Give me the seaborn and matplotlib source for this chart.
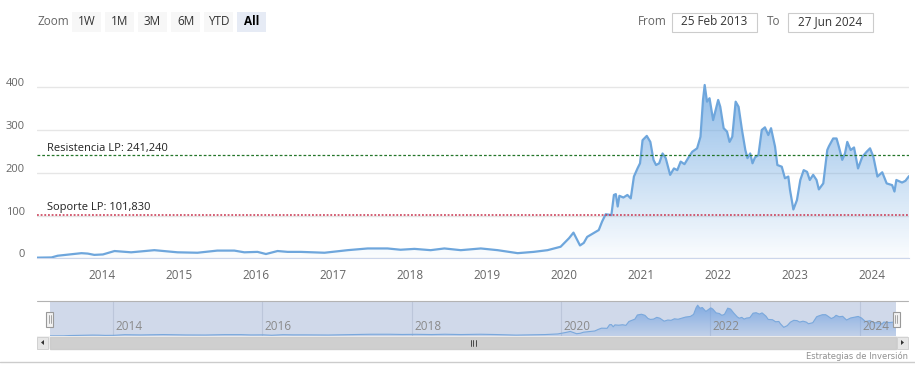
import numpy as np
import pandas as pd
import matplotlib
matplotlib.use("Agg")
import matplotlib.pyplot as plt
import matplotlib.dates as mdates
import matplotlib.transforms as mtransforms
from matplotlib.patches import Rectangle, Polygon
import seaborn as sns

# price series
dates = [
    "2013-02-25", "2013-05-05", "2013-06-03", "2013-09-24", "2013-10-24", "2013-11-24",
    "2014-01-04", "2014-02-28", "2014-05-18", "2014-09-05", "2014-12-24", "2015-03-29",
    "2015-07-01", "2015-09-20", "2015-11-06", "2016-01-08", "2016-02-17", "2016-04-12",
    "2016-05-30", "2016-07-31", "2016-11-21", "2017-03-11", "2017-06-14", "2017-09-16",
    "2017-11-17", "2018-01-22", "2018-04-09", "2018-06-13", "2018-08-30", "2018-12-03",
    "2019-02-21", "2019-05-27", "2019-08-11", "2019-10-16", "2019-12-17", "2020-01-26",
    "2020-02-16", "2020-03-18", "2020-04-05", "2020-04-21", "2020-06-15", "2020-07-01",
    "2020-07-18", "2020-08-14", "2020-08-26", "2020-09-04", "2020-09-13", "2020-09-21",
    "2020-10-10", "2020-10-29", "2020-11-14", "2020-11-29", "2020-12-16", "2020-12-28",
    "2021-01-09", "2021-01-29", "2021-02-15", "2021-03-02", "2021-03-14", "2021-03-29",
    "2021-04-14", "2021-04-29", "2021-05-20", "2021-06-07", "2021-06-23", "2021-07-09",
    "2021-07-27", "2021-08-17", "2021-09-02", "2021-09-25", "2021-10-11", "2021-10-23",
    "2021-10-31", "2021-11-11", "2021-11-23", "2021-12-10", "2022-01-03", "2022-01-13",
    "2022-01-29", "2022-02-14", "2022-02-26", "2022-03-11", "2022-03-27", "2022-04-10",
    "2022-04-26", "2022-05-12", "2022-05-22", "2022-06-04", "2022-06-15", "2022-06-27",
    "2022-07-13", "2022-07-29", "2022-08-13", "2022-08-29", "2022-09-11", "2022-09-30",
    "2022-10-11", "2022-11-01", "2022-11-16", "2022-12-02", "2022-12-10", "2022-12-26",
    "2023-01-12", "2023-01-28", "2023-02-13", "2023-03-01", "2023-03-14", "2023-03-30",
    "2023-04-15", "2023-04-26", "2023-05-17", "2023-06-05", "2023-06-13", "2023-07-03",
    "2023-07-19", "2023-07-30", "2023-08-15", "2023-08-28", "2023-09-08", "2023-09-24",
    "2023-10-10", "2023-10-29", "2023-11-18", "2023-12-09", "2023-12-25", "2024-01-10",
    "2024-01-29", "2024-02-21", "2024-03-13", "2024-04-08", "2024-04-19", "2024-04-28",
    "2024-05-25", "2024-06-10", "2024-06-27",
]
prices = [
    1.5, 2, 6, 12, 11, 8,
    9, 17, 14, 19, 14, 13,
    18, 18, 14, 15, 10, 17,
    15, 15, 13, 19, 23, 23,
    20, 22, 19, 23, 19, 23,
    19, 12, 15, 19, 27, 47,
    60, 30, 36, 50, 66, 86,
    103, 101, 148, 150, 121, 146,
    142, 148, 140, 191, 210, 222,
    276, 286, 272, 230, 218, 222,
    245, 234, 195, 210, 206, 226,
    220, 237, 249, 257, 284, 370,
    405, 366, 374, 323, 370, 354,
    304, 296, 272, 284, 366, 354,
    300, 253, 234, 245, 222, 236,
    241, 300, 306, 288, 304, 261,
    218, 214, 187, 191, 160, 114,
    136, 183, 206, 202, 183, 195,
    183, 161, 175, 253, 262, 280,
    280, 261, 230, 245, 272, 253,
    259, 210, 237, 249, 257, 237,
    191, 201, 175, 171, 156, 183,
    177, 181, 192,
]

resistance = 241.24
support = 101.83
resistance_label = "Resistencia LP: 241,240"
support_label = "Soporte LP: 101,830"
year_ticks = list(range(2014, 2025))
nav_years = [2014, 2016, 2018, 2020, 2022, 2024]
zoom_buttons = ["1W", "1M", "3M", "6M", "YTD", "All"]
date_from = "25 Feb 2013"
date_to = "27 Jun 2024"

sns.set_style("white")
plt.rcParams["font.family"] = ["Open Sans", "DejaVu Sans"]

W, H = 915, 379
fig = plt.figure(figsize=(W / 100, H / 100), dpi=100)


def box(x0, y0, x1, y1):
    return [x0 / W, 1 - y1 / H, (x1 - x0) / W, (y1 - y0) / H]


def gradient_fill(axis, data, top, rgb, a_lo, a_hi):
    """Area under the series filled with a vertical alpha gradient."""
    poly = axis.fill_between(data["date"], data["price"], 0, color="none", lw=0)
    g = np.linspace(0, 1, 256).reshape(-1, 1)
    rgba = np.zeros((256, 1, 4))
    rgba[..., :3] = rgb
    rgba[..., 3] = a_lo + (a_hi - a_lo) * g
    xn = mdates.date2num([data["date"].iloc[0], data["date"].iloc[-1]])
    im = axis.imshow(rgba, extent=[xn[0], xn[1], 0, top], origin="lower",
                     aspect="auto", zorder=1)
    im.set_clip_path(poly.get_paths()[0], transform=axis.transData)


df = pd.DataFrame({"date": pd.to_datetime(dates), "price": prices})
x0, x1 = df["date"].iloc[0], df["date"].iloc[-1]

# ---- main chart ----
ax = fig.add_axes(box(37, 70, 909, 258.3))
gradient_fill(ax, df, 440, (0.45, 0.67, 0.89), 0.03, 0.85)
sns.lineplot(data=df, x="date", y="price", ax=ax, color="#6ea6dc", lw=1.6, zorder=3)
ax.set_xlim(x0, x1)
ax.set_ylim(0, 440)

ax.set_yticks([0, 100, 200, 300, 400])
ax.yaxis.grid(True, color="#e6e6e6", lw=1)
ax.xaxis.grid(False)
ax.tick_params(axis="y", length=0, pad=8.6, labelsize=8, labelcolor="#666666")
for lab in ax.get_yticklabels():
    lab.set_transform(lab.get_transform() +
                      mtransforms.ScaledTranslation(0, 0.05, fig.dpi_scale_trans))
ax.set_xticks([pd.Timestamp(f"{y}-01-01") for y in year_ticks])
ax.set_xticklabels([str(y) for y in year_ticks])
ax.tick_params(axis="x", length=5, width=1, color="#ccd6eb", pad=3,
               labelsize=8.5, labelcolor="#666666")
for s in ["top", "left", "right"]:
    ax.spines[s].set_visible(False)
ax.spines["bottom"].set_color("#ccd6eb")
ax.set_xlabel("")
ax.set_ylabel("")

ax.axhline(resistance, color="#24762a", lw=0.9, ls=(0, (2.2, 1.6)), zorder=4)
ax.axhline(support, color="#c9344f", lw=1.1, ls=(0, (1.2, 1.2)), zorder=4)
tr = mtransforms.blended_transform_factory(ax.transAxes, ax.transData)
ax.text(0.0115, resistance + 3, resistance_label, transform=tr, fontsize=8,
        color="#222222", va="bottom", ha="left", zorder=5)
ax.text(0.0115, support + 3, support_label, transform=tr, fontsize=8,
        color="#222222", va="bottom", ha="left", zorder=5)

# ---- navigator ----
nav = fig.add_axes(box(49.5, 301, 896, 336))
nav.set_facecolor("#d0d9ea")
gradient_fill(nav, df, 460, (0.42, 0.62, 0.88), 0.15, 0.85)
sns.lineplot(data=df, x="date", y="price", ax=nav, color="#7aa8dc", lw=0.8, zorder=3)
nav.set_xlim(x0, x1)
nav.set_ylim(0, 460)
nav.set_xticks([pd.Timestamp(f"{y}-01-01") for y in nav_years])
nav.set_xticklabels([])
nav.set_yticks([])
nav.xaxis.grid(True, color="#bcc6da", lw=0.8)
nav.tick_params(length=0)
for s in nav.spines.values():
    s.set_visible(False)
nav.set_xlabel("")
nav.set_ylabel("")
ntr = mtransforms.blended_transform_factory(nav.transData, nav.transAxes)
for y in nav_years:
    nav.text(pd.Timestamp(f"{y}-01-01") + pd.Timedelta(days=12), 0.1, str(y),
             transform=ntr, fontsize=8.5, color="#8a8a8a", ha="left", va="bottom",
             zorder=5)

# ---- UI chrome in pixel coordinates ----
ui = fig.add_axes([0, 0, 1, 1], zorder=10)
ui.set_xlim(0, W)
ui.set_ylim(H, 0)
ui.axis("off")
ui.patch.set_alpha(0)

ui.text(37, 21.5, "Zoom", fontsize=8.5, color="#666666", va="center", ha="left")
bx = [72, 105, 138, 171, 204, 237]
for b, lab in zip(bx, zoom_buttons):
    sel = lab == "All"
    ui.add_patch(Rectangle((b, 12), 29, 20, facecolor="#e6ebf5" if sel else "#f7f7f7",
                           edgecolor="none"))
    ui.text(b + 14.5, 21.5, lab, fontsize=8.5, color="#000000" if sel else "#333333",
            fontweight="bold" if sel else "normal", ha="center", va="center")

ui.text(638, 21.5, "From", fontsize=8.5, color="#666666", va="center", ha="left")
ui.add_patch(Rectangle((671.5, 12.5), 85, 19, facecolor="white", edgecolor="#cccccc", lw=0.8))
ui.text(714, 21.5, date_from, fontsize=8.5, color="#333333", va="center", ha="center")
ui.text(767, 21.5, "To", fontsize=8.5, color="#666666", va="center", ha="left")
ui.add_patch(Rectangle((787.5, 12.5), 85, 19, facecolor="white", edgecolor="#cccccc", lw=0.8))
ui.text(830, 21.5, date_to, fontsize=8.5, color="#333333", va="center", ha="center")

# navigator outline and handles
ui.plot([37, 908], [301, 301], color="#b3b3b3", lw=0.8)
for hx in [49.5, 896]:
    ui.add_patch(Rectangle((hx - 3.5, 311.5), 7, 15, facecolor="#f2f2f2",
                           edgecolor="#999999", lw=0.8))
    ui.plot([hx - 1, hx - 1], [315, 323], color="#999999", lw=0.6)
    ui.plot([hx + 1, hx + 1], [315, 323], color="#999999", lw=0.6)

# scrollbar
ui.add_patch(Rectangle((37, 336), 871, 13, facecolor="#f2f2f2", edgecolor="none"))
ui.add_patch(Rectangle((49.5, 336.5), 846.5, 12, facecolor="#cfcfcf", edgecolor="#cccccc"))
for ax_x, d in [(37, -1), (897, 1)]:
    ui.add_patch(Rectangle((ax_x, 336.5), 11, 12, facecolor="#e6e6e6", edgecolor="#cccccc", lw=0.6))
    cx = ax_x + 5.5
    ui.add_patch(Polygon([(cx - 1.5 * d, 340), (cx - 1.5 * d, 345), (cx + 1.5 * d, 342.5)],
                         closed=True, facecolor="#333333", edgecolor="none"))
for gx in [470.5, 473, 475.5]:
    ui.plot([gx, gx], [339.5, 345.5], color="#333333", lw=0.6)

ui.text(908, 356, "Estrategias de Inversión", fontsize=6,
        family=["Liberation Sans Narrow", "DejaVu Sans"], color="#909090",
        ha="right", va="center")
ui.plot([0, W], [362, 362], color="#cccccc", lw=1)

fig.savefig("out.png", dpi=100)
plt.close(fig)
